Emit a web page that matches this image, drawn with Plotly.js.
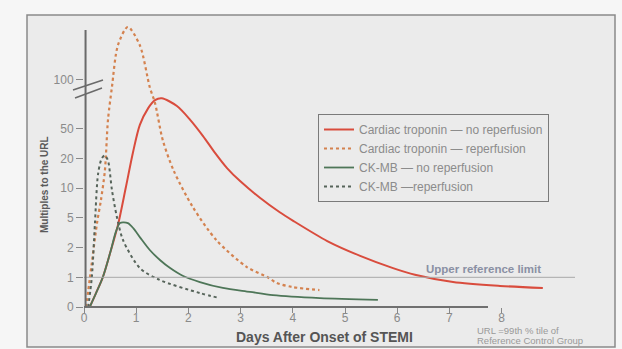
<!DOCTYPE html>
<html>
<head>
<meta charset="utf-8">
<script src="https://cdn.plot.ly/plotly-3.0.1.min.js"></script>
<style>
  html, body { margin: 0; padding: 0; background: #f6f6f6; }
  #chart { width: 622px; height: 349px; }
</style>
</head>
<body>
<div id="chart"></div>
<script>
// ---- Data (days after onset of STEMI, multiples of the URL) ----
const tropNoRepDays = [0.11, 0.23, 0.36, 0.50, 0.65, 0.80, 0.94, 1.07, 1.23, 1.36, 1.49, 1.78, 2.03, 2.28, 2.51, 2.74, 2.99, 3.37, 3.75, 4.0, 4.66, 5.29, 5.92, 6.34, 7.07, 7.97, 8.79];
const tropNoRepVals = [0, 0.47, 1.0, 1.76, 4.0, 10.1, 24.5, 52.8, 67, 75, 77, 69, 57, 40, 23.8, 16, 11.8, 8.0, 5.7, 4.6, 2.45, 1.65, 1.24, 1.06, 0.84, 0.71, 0.64];

const tropRepDays = [0.04, 0.115, 0.25, 0.325, 0.40, 0.46, 0.535, 0.65, 0.84, 1.07, 1.26, 1.36, 1.51, 1.72, 2.08, 2.54, 3.12, 3.52, 3.69, 4.0, 4.51];
const tropRepVals = [0, 1.0, 4.3, 7.6, 15, 57, 90, 163, 211, 163, 90, 72, 35, 15, 6.5, 2.5, 1.27, 1.0, 0.81, 0.67, 0.57];

const ckNoRepDays = [0.11, 0.36, 0.50, 0.61, 0.69, 0.84, 0.95, 1.08, 1.26, 1.46, 1.65, 1.90, 2.22, 2.66, 3.18, 3.62, 4.52, 5.63];
const ckNoRepVals = [0, 1.0, 1.76, 3.25, 4.28, 4.25, 3.6, 2.7, 1.89, 1.49, 1.24, 1.03, 0.84, 0.64, 0.51, 0.40, 0.30, 0.24];

const ckRepDays = [0.08, 0.15, 0.21, 0.27, 0.34, 0.40, 0.46, 0.535, 0.63, 0.75, 1.07, 1.45, 2.22, 2.60];
const ckRepVals = [0, 1.0, 4.3, 14, 20, 22, 19, 9.6, 5.1, 2.5, 1.24, 0.91, 0.47, 0.30];

const seriesNames = [
  "Cardiac troponin \u2014 no reperfusion",
  "Cardiac troponin \u2014 reperfusion",
  "CK-MB \u2014 no reperfusion",
  "CK-MB \u2014reperfusion"
];

const xTickVals = [0, 1, 2, 3, 4, 5, 6, 7, 8];
const yTickVals = [0, 1, 2, 5, 10, 20, 50, 100];
const yTickText = ["0", "1", "2", "5", "10", "20", "50", "100"];
const urlLevel = 1;

// ---- Broken, non-uniform y scale of the original figure ----
const yTickSlots = [0, 1, 2, 3, 4, 5, 6, 7.65];
function pos(v) {
  if (v <= 1) return v;
  for (let i = 1; i < yTickVals.length - 1; i++) {
    const a = yTickVals[i], b = yTickVals[i + 1];
    if (v <= b) {
      return yTickSlots[i] + (yTickSlots[i + 1] - yTickSlots[i]) * Math.log(v / a) / Math.log(b / a);
    }
  }
  const n = yTickVals.length - 1;
  return yTickSlots[n] + (yTickSlots[n] - yTickSlots[n - 1]) * Math.log(v / yTickVals[n]) / Math.log(yTickVals[n] / yTickVals[n - 1]);
}

const smooth = 0.8;
const traces = [
  { x: tropNoRepDays, y: tropNoRepVals.map(pos), name: seriesNames[0], mode: "lines",
    line: { color: "#d94c3d", width: 2, shape: "spline", smoothing: smooth } },
  { x: tropRepDays, y: tropRepVals.map(pos), name: seriesNames[1], mode: "lines",
    line: { color: "#d4824f", width: 2.2, dash: "dot", shape: "spline", smoothing: smooth } },
  { x: ckNoRepDays, y: ckNoRepVals.map(pos), name: seriesNames[2], mode: "lines",
    line: { color: "#4e7658", width: 1.8, shape: "spline", smoothing: smooth } },
  { x: ckRepDays, y: ckRepVals.map(pos), name: seriesNames[3], mode: "lines",
    line: { color: "#56645a", width: 2, dash: "dot", shape: "spline", smoothing: smooth } }
];

const W = 622, H = 349;
const L = 84, R = 22, T = 20, B = 42;
const pxPerDay = 52.2, pxPerSlot = 29.7;
const plotW = W - L - R, plotH = H - T - B;
const px = (x) => (x - L) / plotW;          // page pixel -> paper x
const py = (y) => (H - B - y) / plotH;      // page pixel -> paper y

const font = "Liberation Sans, Arial, sans-serif";

const layout = {
  width: W, height: H,
  margin: { l: L, r: R, t: T, b: B },
  paper_bgcolor: "#f6f6f6",
  plot_bgcolor: "rgba(0,0,0,0)",
  font: { family: font, color: "#888" },
  showlegend: true,
  legend: {
    x: px(318), y: py(114), xanchor: "left", yanchor: "top",
    bgcolor: "rgba(0,0,0,0)", bordercolor: "#7a7a7a", borderwidth: 1,
    font: { family: font, size: 12, color: "#8c8c8c" }, tracegroupgap: 0
  },
  xaxis: {
    range: [0, plotW / pxPerDay],
    tickvals: xTickVals, ticktext: xTickVals.map(String),
    ticks: "outside", ticklen: 5, tickcolor: "#888", tickwidth: 1,
    ticklabelstandoff: -5,
    tickfont: { family: font, size: 12, color: "#8a8a8a" },
    showline: false, zeroline: false, showgrid: false, fixedrange: true
  },
  yaxis: {
    range: [0, plotH / pxPerSlot],
    tickvals: yTickVals.map(pos), ticktext: yTickText,
    ticks: "outside", ticklen: 7, tickcolor: "#888", tickwidth: 1,
    tickfont: { family: font, size: 12, color: "#8a8a8a" },
    showline: false, zeroline: false, showgrid: false, fixedrange: true,
    automargin: false
  },
  shapes: [
    // scanned page frame
    { type: "rect", xref: "paper", yref: "paper", layer: "below",
      x0: px(27), x1: px(615), y0: py(347), y1: py(15),
      fillcolor: "#ebebeb", line: { color: "#8a8a8a", width: 1.5 } },
    // upper reference limit
    { type: "line", xref: "x", yref: "y", x0: 0, x1: (575 - L) / pxPerDay, y0: pos(urlLevel), y1: pos(urlLevel),
      line: { color: "#a8a8a8", width: 1 } },
    // x axis line
    { type: "line", xref: "x", yref: "paper", x0: 0, x1: (488 - L) / pxPerDay, y0: 0, y1: 0,
      line: { color: "#707070", width: 2 } },
    // y axis line
    { type: "line", xref: "paper", yref: "y", x0: 0.003, x1: 0.003, y0: 0, y1: (H - B - 30) / pxPerSlot,
      line: { color: "#6a6a6a", width: 2 } },
    // axis break marks
    { type: "line", xref: "paper", yref: "paper", x0: px(73), x1: px(103), y0: py(90), y1: py(80),
      line: { color: "#6a6a6a", width: 1.5 } },
    { type: "line", xref: "paper", yref: "paper", x0: px(75), x1: px(102), y0: py(98), y1: py(88),
      line: { color: "#6a6a6a", width: 1.5 } }
  ],
  annotations: [
    { text: "Multiples to the URL", xref: "paper", yref: "paper", textangle: -90,
      x: px(45), y: py(185), xanchor: "center", yanchor: "middle", showarrow: false,
      font: { family: font, size: 10, color: "#5a5a5a", weight: "bold" } },
    { text: "Upper reference limit", xref: "paper", yref: "paper",
      x: px(424), y: py(269), xanchor: "left", yanchor: "middle", showarrow: false,
      font: { family: font, size: 11.5, color: "#8a90a4", weight: "bold" } },
    { text: "Days After Onset of STEMI", xref: "paper", yref: "paper",
      x: px(324), y: py(337), xanchor: "center", yanchor: "middle", showarrow: false,
      font: { family: font, size: 14, color: "#555", weight: "bold" } },
    { text: "URL =99th % tile of", xref: "paper", yref: "paper",
      x: px(475), y: py(330), xanchor: "left", yanchor: "middle", align: "left", showarrow: false,
      font: { family: font, size: 9.5, color: "#999" } },
    { text: "Reference Control Group", xref: "paper", yref: "paper",
      x: px(475), y: py(340), xanchor: "left", yanchor: "middle", align: "left", showarrow: false,
      font: { family: font, size: 9.5, color: "#999" } }
  ]
};

Plotly.newPlot("chart", traces, layout, { staticPlot: true, displayModeBar: false });
</script>
</body>
</html>
